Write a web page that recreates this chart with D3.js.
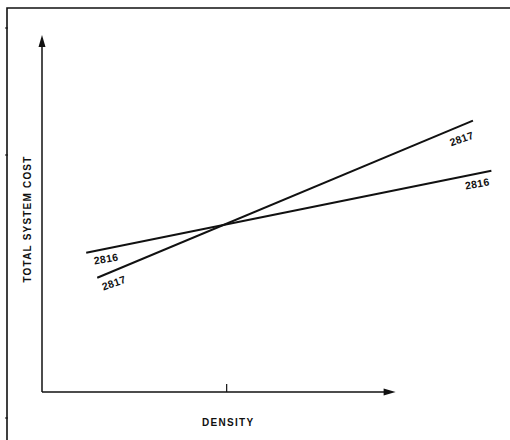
<!DOCTYPE html>
<html>
<head>
<meta charset="utf-8">
<script src="https://cdn.jsdelivr.net/npm/d3@7"></script>
<style>
  html, body { margin: 0; padding: 0; background: #fff; }
  svg { display: block; }
  text { font-family: "Liberation Sans", Arial, sans-serif; font-weight: bold; fill: #111; }
</style>
</head>
<body>
<svg id="chart" width="510" height="440"></svg>
<script>
// ---- data ----
const seriesNames = ["2816", "2817"];
const density2816 = [1.2, 12.2];
const cost2816 = [3.9, 6.2];
const density2817 = [1.5, 11.7];
const cost2817 = [3.2, 7.6];
const xTickValues = [5];
const xAxisMax = 9.6;
const yAxisMax = 10;
const xLabel = "DENSITY";
const yLabel = "TOTAL SYSTEM COST";

const svg = d3.select("#chart");
const x = d3.scaleLinear().domain([0, 12]).range([42, 484]);
const y = d3.scaleLinear().domain([0, 10]).range([392, 35]);

// frame (scanned figure border)
svg.append("path").attr("d", "M7,440 L7,8 L510,8")
  .attr("fill", "none").attr("stroke", "#111").attr("stroke-width", 1.6);
[28, 155, 418].forEach(v => svg.append("line").attr("x1", 5).attr("x2", 8).attr("y1", v).attr("y2", v)
  .attr("stroke", "#111").attr("stroke-width", 1));

// axes
const ink = "#111";
svg.append("line").attr("x1", x(0)).attr("x2", x(0)).attr("y1", y(0)).attr("y2", y(yAxisMax) + 10)
  .attr("stroke", ink).attr("stroke-width", 1.5);
svg.append("path")
  .attr("d", `M${x(0)},${y(yAxisMax)} L${x(0) - 3.5},${y(yAxisMax) + 12} L${x(0) + 3.5},${y(yAxisMax) + 12} Z`)
  .attr("fill", ink);
svg.append("line").attr("x1", x(0)).attr("x2", x(xAxisMax) - 10).attr("y1", y(0)).attr("y2", y(0))
  .attr("stroke", ink).attr("stroke-width", 1.5);
svg.append("path")
  .attr("d", `M${x(xAxisMax)},${y(0)} L${x(xAxisMax) - 12},${y(0) - 3.5} L${x(xAxisMax) - 12},${y(0) + 3.5} Z`)
  .attr("fill", ink);

const xAxis = d3.axisBottom(x).tickValues(xTickValues).tickSizeInner(-8).tickSizeOuter(0).tickFormat("");
const gx = svg.append("g").attr("transform", `translate(0,${y(0)})`).call(xAxis);
gx.select(".domain").remove();
gx.selectAll(".tick line").attr("stroke", ink).attr("stroke-width", 1.2);

// lines
const series = [
  { name: seriesNames[0], xs: density2816, ys: cost2816 },
  { name: seriesNames[1], xs: density2817, ys: cost2817 }
];
const line = d3.line().x(d => x(d[0])).y(d => y(d[1]));
series.forEach(s => {
  const pts = s.xs.map((v, i) => [v, s.ys[i]]);
  svg.append("path").datum(pts).attr("d", line)
    .attr("fill", "none").attr("stroke", ink).attr("stroke-width", 2);
});

// end labels
function addLabel(s, idx, dx, dy) {
  const px = x(s.xs[idx]), py = y(s.ys[idx]);
  const ang = Math.atan2(y(s.ys[1]) - y(s.ys[0]), x(s.xs[1]) - x(s.xs[0])) * 180 / Math.PI;
  svg.append("text").attr("x", 0).attr("y", 0)
    .attr("transform", `translate(${px + dx},${py + dy}) rotate(${ang * 0.85})`)
    .attr("text-anchor", "middle").attr("dominant-baseline", "middle")
    .attr("font-size", 10.5).attr("letter-spacing", 0.3).text(s.name);
}
addLabel(series[0], 0, 20, 7);
addLabel(series[0], 1, -14, 14);
addLabel(series[1], 0, 17, 6);
addLabel(series[1], 1, -11, 19);

// axis titles
svg.append("text").attr("x", x(5) + 2).attr("y", 423)
  .attr("text-anchor", "middle").attr("dominant-baseline", "middle")
  .attr("font-size", 10).attr("letter-spacing", 1.3).text(xLabel);
svg.append("text").attr("transform", `translate(28,219) rotate(-90)`)
  .attr("text-anchor", "middle").attr("dominant-baseline", "middle")
  .attr("font-size", 10).attr("letter-spacing", 1.2).text(yLabel);
</script>
</body>
</html>
